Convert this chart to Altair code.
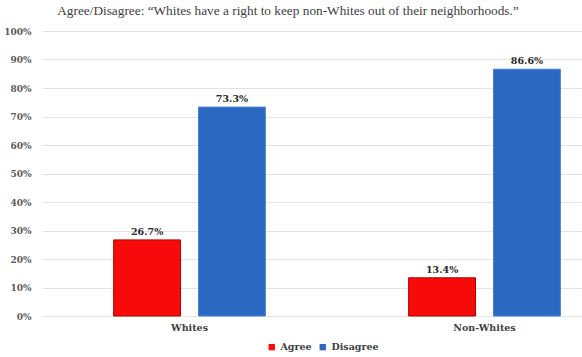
import altair as alt
import pandas as pd

groups = ["Whites", "Whites", "Non-Whites", "Non-Whites"]
responses = ["Agree", "Disagree", "Agree", "Disagree"]
values = [0.267, 0.733, 0.134, 0.866]
labels = ["26.7%", "73.3%", "13.4%", "86.6%"]

df = pd.DataFrame({"group": groups, "response": responses, "value": values, "label": labels})

FONT = "DejaVu Serif"

x = alt.X("group:N", sort=["Whites", "Non-Whites"],
          scale=alt.Scale(range=[2, 592], paddingInner=0, paddingOuter=0),
          axis=alt.Axis(title=None, labelAngle=0, ticks=False, domain=False,
                        labelFont=FONT, labelFontSize=9.5, labelFontWeight="bold",
                        labelColor="#404040", labelPadding=6))
xo = alt.XOffset("response:N", sort=["Agree", "Disagree"],
                 scale=alt.Scale(paddingInner=0.212, paddingOuter=0.844))
y = alt.Y("value:Q", scale=alt.Scale(domain=[0, 1]),
          axis=alt.Axis(title=None, format=".0%", values=[i / 10 for i in range(11)],
                        ticks=False, domain=False, gridColor="#E3E3E3",
                        labelFont=FONT, labelFontSize=9, labelFontWeight="bold",
                        labelColor="#595959", labelPadding=9))

color = alt.Color("response:N", sort=["Agree", "Disagree"],
                  scale=alt.Scale(domain=["Agree", "Disagree"], range=["#F70A0A", "#2B68C1"]),
                  legend=alt.Legend(title=None, orient="none", direction="horizontal",
                                    legendX=227, legendY=311, symbolType="square",
                                    symbolSize=40, symbolStrokeWidth=0,
                                    labelFont=FONT, labelFontSize=9.5, labelFontWeight="bold",
                                    labelColor="#404040", columnPadding=6, symbolOffset=0))

bars = alt.Chart(df).mark_bar(strokeWidth=1).encode(
    x=x, xOffset=xo, y=y, color=color,
    stroke=alt.Stroke("response:N", scale=alt.Scale(domain=["Agree", "Disagree"], range=["#B00000", "#4A80D0"]), legend=None),
)

text = alt.Chart(df).mark_text(dy=-8, font=FONT, fontSize=9.5, fontWeight="bold", color="#262626").encode(
    x=x, xOffset=xo, y=y, text="label:N"
)

chart = alt.layer(bars, text).properties(
    width=538, height=285,
    autosize=alt.AutoSizeParams(type="none"),
    padding={"left": 40, "top": 31, "right": 4, "bottom": 41},
    title=alt.TitleParams(
        text="Agree/Disagree: \u201cWhites have a right to keep non-Whites out of their neighborhoods.\u201d",
        font="Liberation Serif", fontSize=13.3, fontWeight="normal", color="#404040",
        anchor="middle", dx=-21, offset=10,
    ),
).configure_view(stroke=None)

chart.save("out.html", embed_options={"renderer": "svg", "actions": False})
